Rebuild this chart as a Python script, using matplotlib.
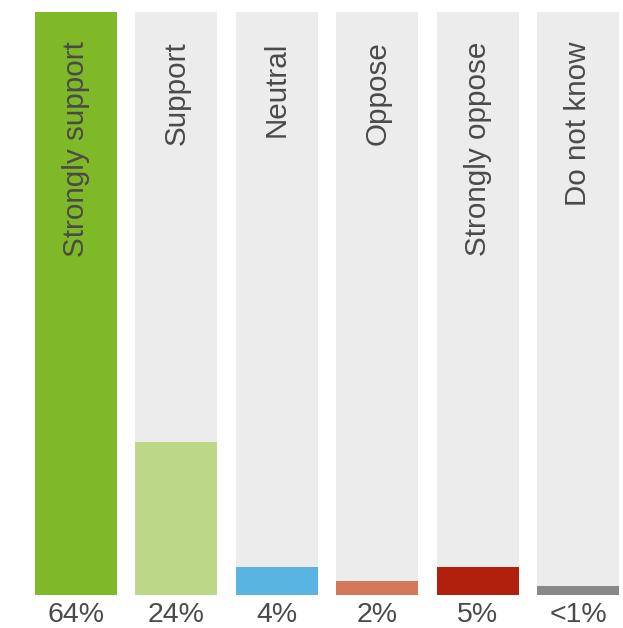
import numpy as np
import matplotlib
matplotlib.use('Agg')
import matplotlib.pyplot as plt

# survey answers
categories = ['Strongly support', 'Support', 'Neutral', 'Oppose', 'Strongly oppose', 'Do not know']
value_labels = ['64%', '24%', '4%', '2%', '5%', '<1%']
# filled share of each column (percent of column height)
fill_heights = [100, 26.2, 4.8, 2.4, 4.8, 1.5]
bar_colors = ['#80b927', '#bdd789', '#5ab4e1', '#d4785a', '#b0200c', '#888888']

plt.rcParams['font.family'] = ['Liberation Sans', 'DejaVu Sans']
text_color = '#4a4a4a'

fig = plt.figure(figsize=(6.23, 6.28), dpi=100)
ax = fig.add_axes([0, 0, 1, 1])

x = np.arange(len(categories))
width = 0.817
ax.bar(x, [100] * len(x), width=width, color='#ebeceb', linewidth=0)
ax.bar(x, fill_heights, width=width, color=bar_colors, linewidth=0)

for i, (cat, lab) in enumerate(zip(categories, value_labels)):
    ax.annotate(cat, xy=(i, 100), xytext=(0, -21), textcoords='offset points',
                rotation=90, ha='center', va='top', fontsize=21.3, color=text_color)
    ax.annotate(lab, xy=(i, 0), xytext=(0, -14.5), textcoords='offset points',
                ha='center', va='center', fontsize=20.5, color=text_color)

ax.set_xlim(-0.757, 5.448)
ax.set_ylim(-5.66, 102.06)
ax.axis('off')

fig.savefig('out.png', dpi=100)
